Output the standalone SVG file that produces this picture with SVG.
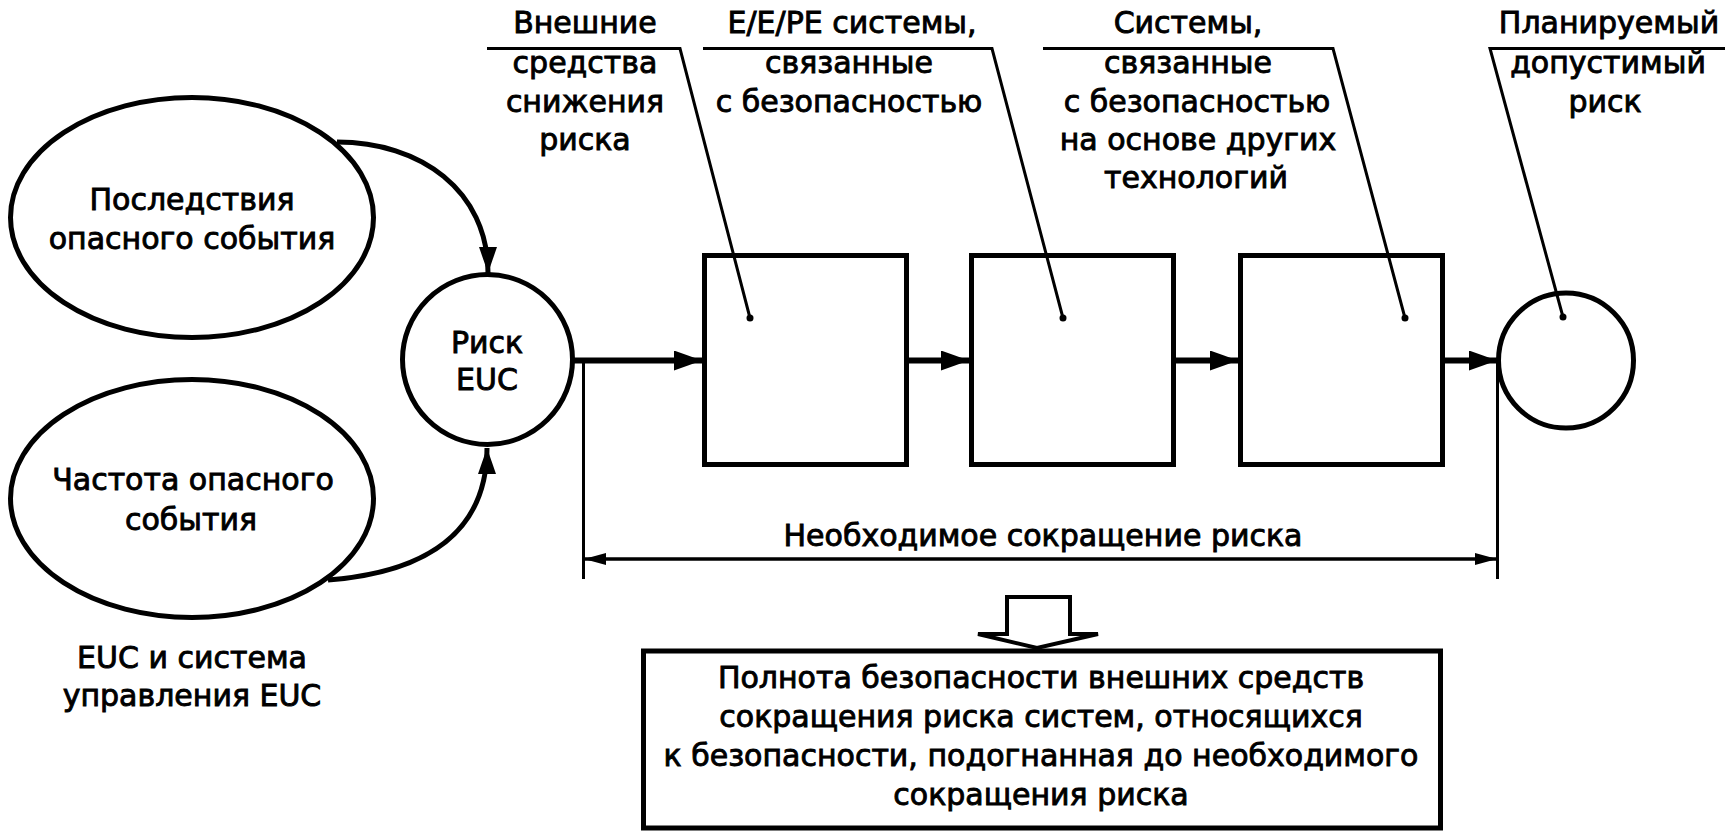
<svg xmlns="http://www.w3.org/2000/svg" width="1733" height="837" viewBox="0 0 1733 837">
<style>
text{font-family:"DejaVu Sans","Liberation Sans",sans-serif;font-size:30px;fill:#000;stroke:#000;stroke-width:0.9;text-anchor:middle}
.thick{fill:none;stroke:#000;stroke-width:5}
.thin{fill:none;stroke:#000;stroke-width:3}
.flow{fill:none;stroke:#000;stroke-width:6;marker-end:url(#ah)}
.curve{fill:none;stroke:#000;stroke-width:5;marker-end:url(#ahc)}
.dim{fill:none;stroke:#000;stroke-width:3.5;marker-start:url(#ahd);marker-end:url(#ahd)}
.dot{fill:#000}
</style>
<defs>
<marker id="ah" markerUnits="userSpaceOnUse" markerWidth="28" markerHeight="20" refX="28" refY="10" orient="auto"><path d="M0,0 L28,10 L0,20 z" fill="#000"/></marker>
<marker id="ahc" markerUnits="userSpaceOnUse" markerWidth="26" markerHeight="18" refX="26" refY="9" orient="auto"><path d="M0,0 L26,9 L0,18 z" fill="#000"/></marker>
<marker id="ahd" markerUnits="userSpaceOnUse" markerWidth="22" markerHeight="12" refX="22" refY="6" orient="auto-start-reverse"><path d="M0,0 L22,6 L0,12 z" fill="#000"/></marker>
</defs>
<rect width="1733" height="837" fill="#fff"/>

<g id="consequence">
<ellipse class="thick" cx="192" cy="217.5" rx="181.5" ry="120"/>
<text x="192" y="210">Последствия</text>
<text x="192" y="249">опасного события</text>
</g>
<g id="frequency">
<ellipse class="thick" cx="192" cy="498.5" rx="181.5" ry="119"/>
<text x="193" y="490">Частота опасного</text>
<text x="191" y="530">события</text>
</g>
<g id="euc-label">
<text x="192" y="668">EUC и система</text>
<text x="192" y="706">управления EUC</text>
</g>
<g id="euc-risk">
<circle class="thick" cx="487.5" cy="359.5" r="85"/>
<text x="487" y="353">Риск</text>
<text x="487" y="390">EUC</text>
</g>
<g id="box-external">
<rect class="thick" x="704.5" y="255.5" width="202" height="209"/>
</g>
<g id="box-eepe">
<rect class="thick" x="971.5" y="255.5" width="202" height="209"/>
</g>
<g id="box-other">
<rect class="thick" x="1240.5" y="255.5" width="202" height="209"/>
</g>
<g id="tolerable-risk">
<circle class="thick" cx="1566" cy="360.5" r="67.5"/>
</g>

<g id="label-external">
<text x="585" y="33">Внешние</text>
<text x="585" y="73">средства</text>
<text x="585" y="112">снижения</text>
<text x="585" y="150">риска</text>
</g>
<g id="label-eepe">
<text x="852" y="33">E/E/PE системы,</text>
<text x="849" y="73">связанные</text>
<text x="849" y="112">с безопасностью</text>
</g>
<g id="label-other">
<text x="1188" y="33">Системы,</text>
<text x="1188" y="73">связанные</text>
<text x="1197" y="112">с безопасностью</text>
<text x="1198" y="150">на основе других</text>
<text x="1196" y="188">технологий</text>
</g>
<g id="label-tolerable">
<text x="1609" y="33">Планируемый</text>
<text x="1608" y="73">допустимый</text>
<text x="1605" y="112">риск</text>
</g>

<g id="result">
<polygon class="thin" style="stroke-width:4;stroke-linejoin:miter" points="1007,597 1070,597 1070,634 1098,634 1037,648 978,634 1007,634"/>
<rect class="thick" x="643.5" y="651" width="797" height="177"/>
<text x="1041" y="688">Полнота безопасности внешних средств</text>
<text x="1041" y="727">сокращения риска систем, относящихся</text>
<text x="1041" y="766">к безопасности, подогнанная до необходимого</text>
<text x="1041" y="805">сокращения риска</text>
</g>

<g id="connectors">
<path class="curve" d="M337,142 C420,142 488,190 488,273"/>
<path class="curve" d="M328,580 C430,572 487,530 487,448"/>
<line class="flow" x1="572" y1="360.5" x2="702" y2="360.5"/>
<line class="flow" x1="907" y1="360.5" x2="969" y2="360.5"/>
<line class="flow" x1="1174" y1="360.5" x2="1238" y2="360.5"/>
<line class="flow" x1="1443" y1="360.5" x2="1497" y2="360.5"/>
<path class="thin" d="M487,48.5 H680 L750,318"/>
<path class="thin" d="M703,48.5 H992 L1063,318"/>
<path class="thin" d="M1043,48.5 H1333 L1405,318"/>
<path class="thin" d="M1725,48.5 H1490 L1563,317"/>
<circle class="dot" cx="750" cy="318" r="3.5"/>
<circle class="dot" cx="1063" cy="318" r="3.5"/>
<circle class="dot" cx="1405" cy="318" r="3.5"/>
<circle class="dot" cx="1563" cy="317" r="3.5"/>
<line class="thin" x1="583.5" y1="363" x2="583.5" y2="579"/>
<line class="thin" x1="1497.5" y1="362" x2="1497.5" y2="579"/>
<line class="dim" x1="584" y1="559" x2="1497" y2="559"/>
<text x="1043" y="546">Необходимое сокращение риска</text>
</g>
</svg>
